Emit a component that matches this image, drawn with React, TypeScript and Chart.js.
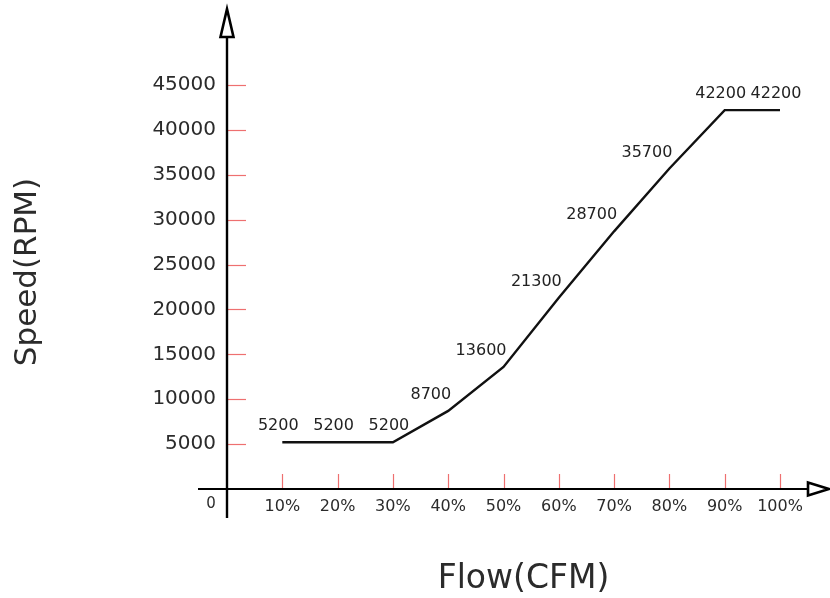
import React, { useEffect, useRef } from "react";
import { Chart, registerables } from "chart.js";

Chart.register(...registerables);

const flowPercent = [10, 20, 30, 40, 50, 60, 70, 80, 90, 100];
const speedRpm = [5200, 5200, 5200, 8700, 13600, 21300, 28700, 35700, 42200, 42200];
const xTitle = "Flow(CFM)";
const yTitle = "Speed(RPM)";

const FONT = "'DejaVu Sans', Verdana, sans-serif";
const TEXT = "#2b2b2b";
const TICK_RED = "#ee7070";

const axesPlugin = {
  id: "axesPlugin",
  beforeDatasetsDraw(chart: any) {
    const { ctx, chartArea, scales } = chart;
    const xs = scales.x;
    const ys = scales.y;
    const x0 = xs.getPixelForValue(0);
    const y0 = ys.getPixelForValue(0);
    ctx.save();
    // red tick marks
    ctx.strokeStyle = TICK_RED;
    ctx.lineWidth = 1.2;
    xs.ticks.forEach((t: any) => {
      if (t.value === 0) return;
      const px = Math.round(xs.getPixelForValue(t.value)) + 0.5;
      ctx.beginPath();
      ctx.moveTo(px, y0 - 15);
      ctx.lineTo(px, y0);
      ctx.stroke();
    });
    ys.ticks.forEach((t: any) => {
      if (t.value === 0) return;
      const py = Math.round(ys.getPixelForValue(t.value)) + 0.5;
      ctx.beginPath();
      ctx.moveTo(x0, py);
      ctx.lineTo(x0 + 19, py);
      ctx.stroke();
    });
    // axes lines
    ctx.strokeStyle = "#000";
    ctx.lineWidth = 2.4;
    ctx.beginPath();
    ctx.moveTo(x0, y0 + 29);
    ctx.lineTo(x0, chartArea.top - 48);
    ctx.stroke();
    ctx.lineWidth = 2.2;
    ctx.beginPath();
    ctx.moveTo(x0 - 29, y0);
    ctx.lineTo(chartArea.right + 28, y0);
    ctx.stroke();
    // arrowheads (open triangles)
    ctx.fillStyle = "#fff";
    ctx.lineWidth = 2.6;
    ctx.lineJoin = "miter";
    const topBase = chartArea.top - 48;
    ctx.beginPath();
    ctx.moveTo(x0, topBase - 28);
    ctx.lineTo(x0 - 6.5, topBase);
    ctx.lineTo(x0 + 6.5, topBase);
    ctx.closePath();
    ctx.fill();
    ctx.stroke();
    const rightBase = chartArea.right + 28;
    ctx.beginPath();
    ctx.moveTo(rightBase + 21, y0);
    ctx.lineTo(rightBase, y0 - 6.5);
    ctx.lineTo(rightBase, y0 + 6.5);
    ctx.closePath();
    ctx.fill();
    ctx.stroke();
    // origin label
    ctx.fillStyle = TEXT;
    ctx.font = `15px ${FONT}`;
    ctx.textAlign = "center";
    ctx.textBaseline = "middle";
    ctx.fillText("0", x0 - 16, y0 + 15);
    // axis titles
    ctx.font = `33px ${FONT}`;
    ctx.fillText(xTitle, (x0 + chartArea.right + 40) / 2, y0 + 90);
    ctx.font = `31px ${FONT}`;
    ctx.save();
    ctx.translate(28, 272);
    ctx.rotate(-Math.PI / 2);
    ctx.fillText(yTitle, 0, 0);
    ctx.restore();
    ctx.restore();
  },
  afterDatasetsDraw(chart: any) {
    const { ctx } = chart;
    const meta = chart.getDatasetMeta(0);
    ctx.save();
    ctx.fillStyle = "#222";
    ctx.font = `16px ${FONT}`;
    ctx.textBaseline = "middle";
    meta.data.forEach((pt: any, i: number) => {
      const v = speedRpm[i];
      const prev = i > 0 ? speedRpm[i - 1] : v;
      const next = i < speedRpm.length - 1 ? speedRpm[i + 1] : v;
      const rising = v > prev && next > v;
      if (rising) {
        ctx.textAlign = "right";
        ctx.fillText(String(v), pt.x + 3, pt.y - 16);
      } else {
        ctx.textAlign = "center";
        ctx.fillText(String(v), pt.x - 4, pt.y - 16);
      }
    });
    ctx.restore();
  },
};

export default function App() {
  const ref = useRef<HTMLCanvasElement | null>(null);
  useEffect(() => {
    if (!ref.current) return;
    const chart = new Chart(ref.current, {
      type: "line",
      data: {
        datasets: [
          {
            data: flowPercent.map((f, i) => ({ x: f, y: speedRpm[i] })),
            borderColor: "#111111",
            borderWidth: 2.4,
            pointRadius: 0,
            tension: 0,
            fill: false,
          },
        ],
      },
      options: {
        animation: false,
        responsive: false,
        events: [],
        layout: { padding: { top: 85, right: 50, left: 0, bottom: 0 } },
        plugins: { legend: { display: false }, tooltip: { enabled: false } },
        scales: {
          x: {
            type: "linear",
            min: 0,
            max: 100,
            grid: { display: false, drawTicks: false },
            border: { display: false },
            ticks: {
              stepSize: 10,
              padding: 8,
              color: TEXT,
              font: { family: FONT, size: 16 },
              maxRotation: 0,
              callback: (v: any) => (v === 0 ? "" : v + "%"),
            },
            afterFit: (s: any) => {
              s.height = 109;
            },
          },
          y: {
            min: 0,
            max: 45000,
            grid: { display: false, drawTicks: false },
            border: { display: false },
            ticks: {
              stepSize: 5000,
              padding: 11,
              color: TEXT,
              font: { family: FONT, size: 20 },
              callback: (v: any) => (v === 0 ? "" : String(v)),
            },
            afterFit: (s: any) => {
              s.width = 227;
            },
          },
        },
      },
      plugins: [axesPlugin],
    });
    return () => chart.destroy();
  }, []);
  return (
    <div style={{ position: "absolute", left: 0, top: 0, width: 830, height: 598, background: "#fff" }}>
      <canvas ref={ref} width={830} height={598} />
    </div>
  );
}
